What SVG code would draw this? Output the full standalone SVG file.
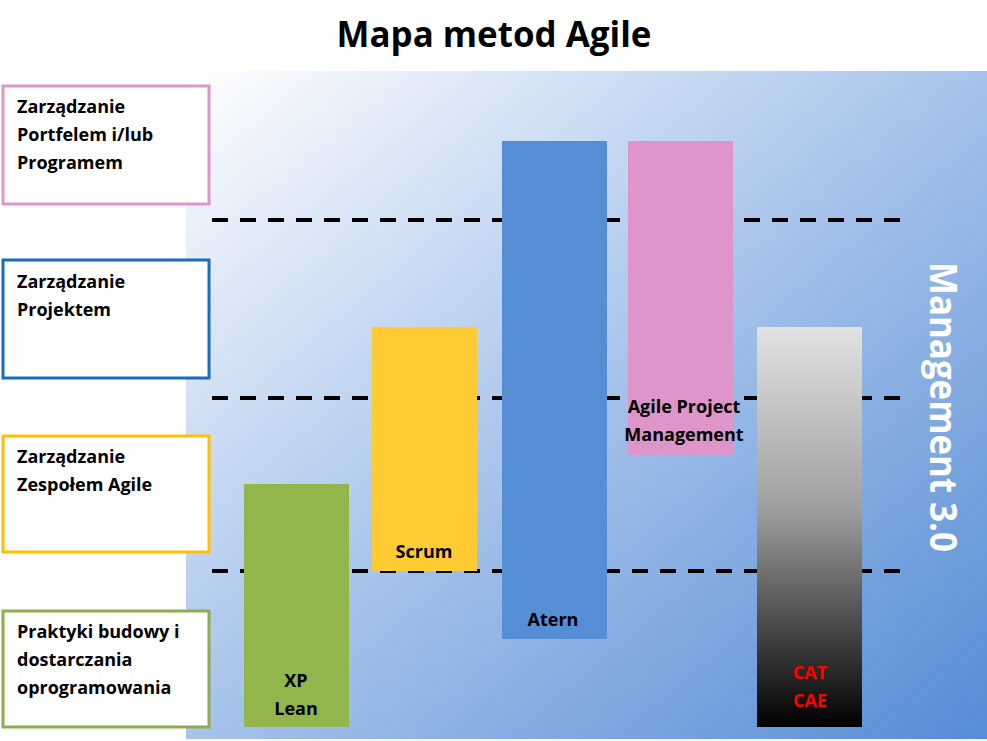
<svg xmlns="http://www.w3.org/2000/svg" width="987" height="741" viewBox="0 0 987 741">
<defs>
<linearGradient id="bg" x1="0" y1="0" x2="1" y2="1">
<stop offset="0" stop-color="#ffffff"/>
<stop offset="0.55" stop-color="#9dbde8"/>
<stop offset="1" stop-color="#558cd4"/>
</linearGradient>
<linearGradient id="gray" x1="0" y1="0" x2="0" y2="1">
<stop offset="0" stop-color="#e2e2e2"/>
<stop offset="0.45" stop-color="#a0a0a0"/>
<stop offset="1" stop-color="#000000"/>
</linearGradient>
<style>
text{font-family:"Open Sans","Liberation Sans",sans-serif;font-weight:bold;}
.lbl{font-size:18px;fill:#000;}
.bar{font-size:18px;fill:#000;text-anchor:middle;}
.red{fill:#ff0000;}
.box{fill:#fff;stroke-width:3;}
.dash{stroke:#000;stroke-width:4;stroke-dasharray:16 12;fill:none;}
</style>
</defs>
<rect x="0" y="0" width="987" height="741" fill="#fff"/>
<rect x="186" y="71" width="801" height="668" fill="url(#bg)"/>
<text x="494" y="47" font-size="36" text-anchor="middle" fill="#000" textLength="315" lengthAdjust="spacingAndGlyphs">Mapa metod Agile</text>

<g id="connectors">
<line class="dash" x1="212" y1="220" x2="900" y2="220"/>
<line class="dash" x1="212" y1="398" x2="900" y2="398"/>
<line class="dash" x1="212" y1="571" x2="900" y2="571"/>
</g>

<g id="box-portfel">
<rect class="box" x="3" y="86" width="206" height="118" stroke="#de95c9"/>
<text class="lbl" x="17" y="113">Zarządzanie</text>
<text class="lbl" x="17" y="141">Portfelem i/lub</text>
<text class="lbl" x="17" y="169">Programem</text>
</g>
<g id="box-projekt">
<rect class="box" x="3" y="260" width="206" height="118" stroke="#1a6dba"/>
<text class="lbl" x="17" y="288">Zarządzanie</text>
<text class="lbl" x="17" y="316">Projektem</text>
</g>
<g id="box-zespol">
<rect class="box" x="3" y="436" width="206" height="116" stroke="#ffc000"/>
<text class="lbl" x="17" y="463">Zarządzanie</text>
<text class="lbl" x="17" y="491">Zespołem Agile</text>
</g>
<g id="box-praktyki">
<rect class="box" x="3" y="611" width="206" height="116" stroke="#8fac4e"/>
<text class="lbl" x="17" y="638">Praktyki budowy i</text>
<text class="lbl" x="17" y="666">dostarczania</text>
<text class="lbl" x="17" y="694">oprogramowania</text>
</g>

<g id="bar-xp">
<rect x="244" y="484" width="105" height="243" fill="#92b54c"/>
<text class="bar" x="296" y="687">XP</text>
<text class="bar" x="296" y="715">Lean</text>
</g>
<g id="bar-scrum">
<rect x="372" y="327" width="105" height="244" fill="#ffcb33"/>
<text class="bar" x="424" y="558">Scrum</text>
</g>
<g id="bar-atern">
<rect x="502" y="141" width="105" height="498" fill="#558ed5"/>
<text class="bar" x="553" y="626">Atern</text>
</g>
<g id="bar-apm">
<rect x="628" y="141" width="105" height="314" fill="#de95c9"/>
<text class="bar" x="684" y="413">Agile Project</text>
<text class="bar" x="684" y="441">Management</text>
</g>
<g id="bar-cat">
<rect x="757" y="327" width="105" height="400" fill="url(#gray)"/>
<text class="bar red" x="810" y="679">CAT</text>
<text class="bar red" x="810" y="707">CAE</text>
</g>
<g id="management30">
<text x="0" y="0" font-size="38" fill="#fff" text-anchor="middle" textLength="290" lengthAdjust="spacingAndGlyphs" transform="translate(930,407) rotate(90)">Management 3.0</text>
</g>
</svg>
